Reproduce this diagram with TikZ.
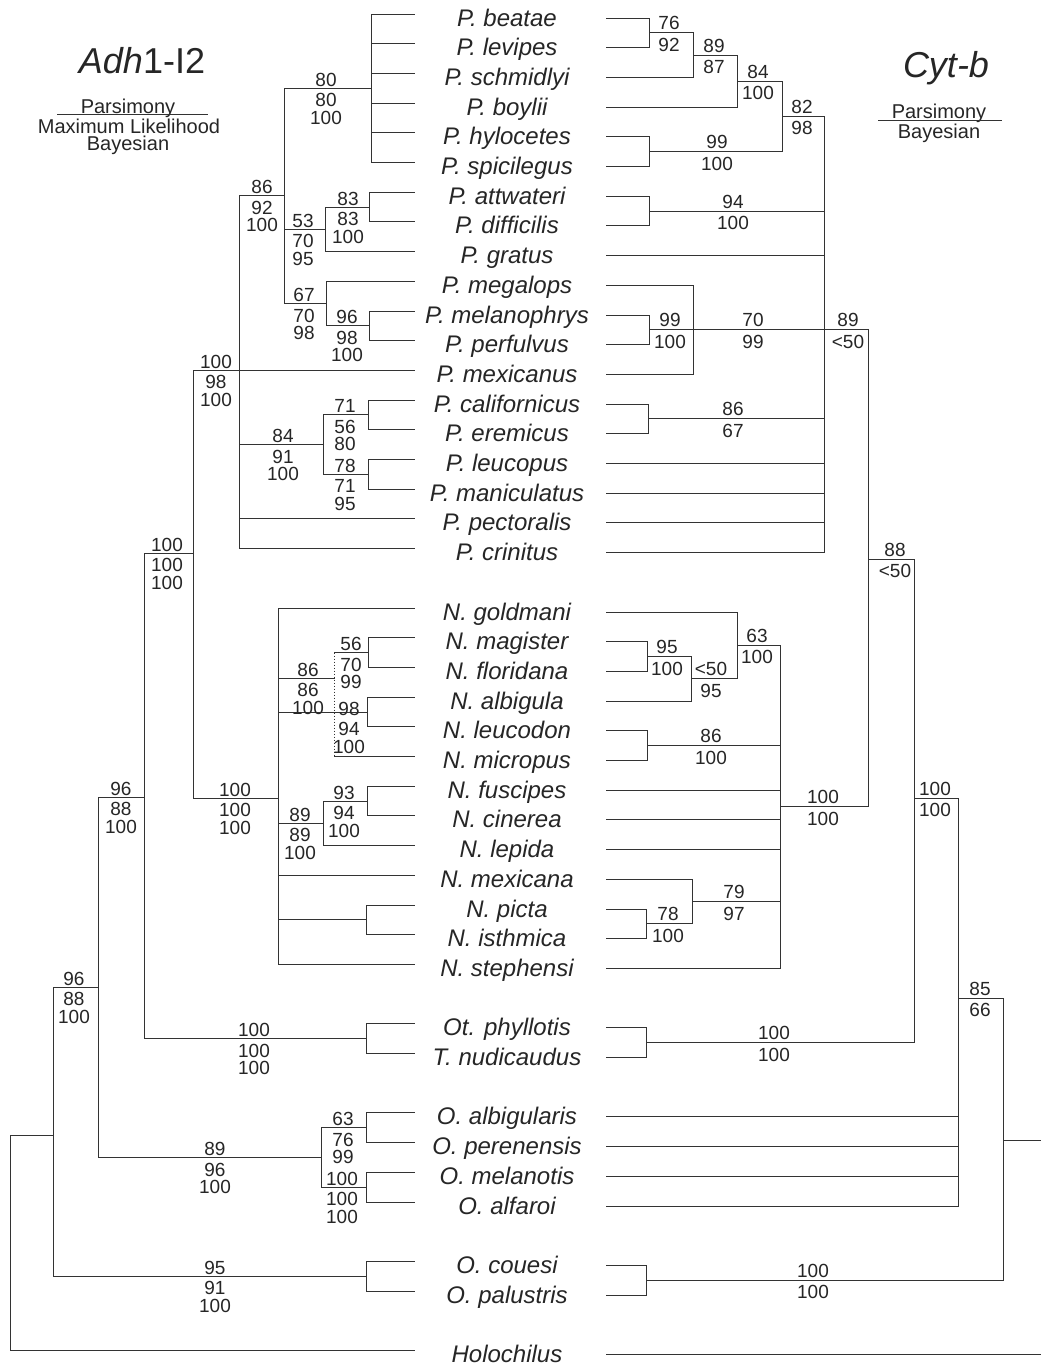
\documentclass[tikz,border=0pt]{standalone}
\usepackage{fontspec}
\setmainfont{Liberation Sans}
\newcounter{lab}
\tikzset{
  br/.style={line width=1pt, draw=black!80, line cap=rect},
  num/.style={inner sep=0pt, text=black!85, font=\fontsize{19}{19}\selectfont},
  taxon/.style={inner sep=0pt, anchor=base, text=black!85, font=\fontsize{24}{24}\selectfont\itshape},
  legend/.style={inner sep=0pt, anchor=base, text=black!85, font=\fontsize{20}{20}\selectfont},
  title/.style={inner sep=0pt, anchor=base, text=black!85, font=\fontsize{36}{36}\selectfont}
}
\newcommand\LT[2]{\draw[br] (#1,{14+29.7*#2}) -- (414,{14+29.7*#2});}
\newcommand\RT[2]{\draw[br] (606,{18+29.7*#2}) -- (#1,{18+29.7*#2});}
\newcommand\brV[3]{\draw[br] (#1,#2) -- (#1,#3);}
\newcommand\brH[3]{\draw[br] (#1,#3) -- (#2,#3);}
\newcommand\lthree[5]{\stepcounter{lab}%
  \node[num] (l\thelab a) at (#1,#2-8.5) {#3};
  \node[num] (l\thelab b) at (#1,#2+12) {#4};
  \node[num] (l\thelab c) at (#1,#2+29.5) {#5};}
\newcommand\ltwo[4]{\stepcounter{lab}%
  \node[num] (l\thelab a) at (#1,#2-9.5) {#3};
  \node[num] (l\thelab b) at (#1,#2+12) {#4};}
\begin{document}
\begin{tikzpicture}[x=1pt,y=-1pt]
\fill[white] (0,0) rectangle (1041,1365);
\useasboundingbox (0,0) rectangle (1041,1365);

% ---------- titles and legends ----------
\node[title] (titleL) at (142,73) {\textit{Adh}1-I2};
\node[legend] (parsL) at (128,113) {Parsimony};
\node[legend] (mlL) at (129,133) {Maximum Likelihood};
\node[legend] (bayL) at (128,150) {Bayesian};
\draw[br,line cap=butt] (57,114) -- (208,114);
\node[title] (titleR) at (946,77) {\textit{Cyt-b}};
\node[legend] (parsR) at (939,118) {Parsimony};
\node[legend] (bayR) at (939,138) {Bayesian};
\draw[br,line cap=butt] (878,120) -- (1002,120);

% ---------- taxa ----------
\foreach \k/\n in {0/P. beatae,1/P. levipes,2/P. schmidlyi,3/P. boylii,4/P. hylocetes,
  5/P. spicilegus,6/P. attwateri,7/P. difficilis,8/P. gratus,9/P. megalops,
  10/P. melanophrys,11/P. perfulvus,12/P. mexicanus,13/P. californicus,14/P. eremicus,
  15/P. leucopus,16/P. maniculatus,17/P. pectoralis,18/P. crinitus,
  20/N. goldmani,21/N. magister,22/N. floridana,23/N. albigula,24/N. leucodon,
  25/N. micropus,26/N. fuscipes,27/N. cinerea,28/N. lepida,29/N. mexicana,
  30/N. picta,31/N. isthmica,32/N. stephensi,34/Ot. phyllotis,35/T. nudicaudus,
  37/O. albigularis,38/O. perenensis,39/O. melanotis,40/O. alfaroi,
  42/O. couesi,43/O. palustris,45/Holochilus}
  {\node[taxon] (t\k) at (507,{26+29.7*\k}) {\n};}

% ---------- left tree (Adh1-I2) ----------
\foreach \k in {0,...,5} {\LT{371}{\k}}
\brV{371}{14}{162.5}
\brH{284}{371}{88.25}
\LT{369}{6}\LT{369}{7}
\brV{369}{192.2}{221.9}
\brH{325}{369}{207.05}
\LT{325}{8}
\brV{325}{207.05}{251.6}
\brH{284}{325}{229.3}
\LT{369}{10}\LT{369}{11}
\brV{369}{311}{340.7}
\brH{326}{369}{325.85}
\LT{326}{9}
\brV{326}{281.3}{325.85}
\brH{284}{326}{303.6}
\brV{284}{88.25}{303.6}
\brH{239}{284}{195.9}
\LT{368}{13}\LT{368}{14}
\brV{368}{400.1}{429.8}
\brH{323}{368}{414.95}
\LT{368}{15}\LT{368}{16}
\brV{368}{459.5}{489.2}
\brH{323}{368}{474.35}
\brV{323}{414.95}{474.35}
\brH{239}{323}{444.65}
\LT{239}{12}\LT{239}{17}\LT{239}{18}
\brV{239}{195.9}{548.6}
\brH{193}{239}{370.4}
% Neotoma
\LT{278}{20}
\LT{368}{21}\LT{368}{22}
\brV{368}{637.7}{667.4}
\brH{334}{368}{652.55}
\LT{367}{23}\LT{367}{24}
\brV{367}{697.1}{726.8}
\brH{278}{367}{712}
\LT{334}{25}
\draw[br,line cap=butt,dash pattern=on 1.3pt off 1.7pt] (334,652.55) -- (334,756.5);
\brH{278}{334}{678}
\LT{367}{26}\LT{367}{27}
\brV{367}{786.2}{815.9}
\brH{323}{367}{801.05}
\LT{323}{28}
\brV{323}{801.05}{845.6}
\brH{278}{323}{823.3}
\LT{278}{29}
\LT{366}{30}\LT{366}{31}
\brV{366}{905}{934.7}
\brH{278}{366}{919.85}
\LT{278}{32}
\brV{278}{608}{964.4}
\brH{193}{278}{798}
\brV{193}{370.4}{798}
\brH{144}{193}{553}
% Ototylomys / Tylomys
\LT{366}{34}\LT{366}{35}
\brV{366}{1023.8}{1053.5}
\brH{144}{366}{1038.65}
\brV{144}{553}{1038.65}
\brH{98}{144}{797}
% Oligoryzomys etc.
\LT{366}{37}\LT{366}{38}
\brV{366}{1112.9}{1142.6}
\brH{321}{366}{1127.75}
\LT{366}{39}\LT{366}{40}
\brV{366}{1172.3}{1202}
\brH{321}{366}{1187.15}
\brV{321}{1127.75}{1187.15}
\brH{98}{321}{1157.45}
\brV{98}{797}{1157.45}
\brH{53}{98}{987}
\LT{366}{42}\LT{366}{43}
\brV{366}{1261.4}{1291.1}
\brH{53}{366}{1276.25}
\brV{53}{987}{1276.25}
\brH{10}{53}{1135}
\LT{10}{45}
\brV{10}{1135}{1350.5}

% left support values
\lthree{326}{88.25}{80}{80}{100}
\lthree{262}{195.9}{86}{92}{100}
\lthree{303}{229.3}{53}{70}{95}
\lthree{348}{207.05}{83}{83}{100}
\lthree{304}{303.6}{67}{70}{98}
\lthree{347}{325.85}{96}{98}{100}
\lthree{216}{370.4}{100}{98}{100}
\lthree{283}{444.65}{84}{91}{100}
\lthree{345}{414.95}{71}{56}{80}
\lthree{345}{474.35}{78}{71}{95}
\lthree{167}{553}{100}{100}{100}
\lthree{235}{798}{100}{100}{100}
\lthree{308}{678}{86}{86}{100}
\lthree{351}{652.55}{56}{70}{99}
\lthree{349}{717}{98}{94}{100}
\lthree{300}{823.3}{89}{89}{100}
\lthree{344}{801.05}{93}{94}{100}
\lthree{121}{797}{96}{88}{100}
\lthree{254}{1038.65}{100}{100}{100}
\lthree{74}{987}{96}{88}{100}
\lthree{215}{1157.45}{89}{96}{100}
\lthree{343}{1127.75}{63}{76}{99}
\lthree{342}{1187.15}{100}{100}{100}
\lthree{215}{1276.25}{95}{91}{100}

% ---------- right tree (Cyt-b) ----------
\RT{649}{0}\RT{649}{1}
\brV{649}{18}{47.7}
\brH{649}{693}{32.85}
\RT{693}{2}
\brV{693}{32.85}{77.4}
\brH{693}{737}{55.1}
\RT{737}{3}
\brV{737}{55.1}{107.1}
\brH{737}{782}{81.1}
\RT{649}{4}\RT{649}{5}
\brV{649}{136.8}{166.5}
\brH{649}{782}{151.65}
\brV{782}{81.1}{151.65}
\brH{782}{824}{116.4}
\RT{649}{6}\RT{649}{7}
\brV{649}{196.2}{225.9}
\brH{649}{824}{211.05}
\RT{824}{8}
\RT{693}{9}\RT{649}{10}\RT{649}{11}\RT{693}{12}
\brV{649}{315}{344.7}
\brV{693}{285.3}{374.4}
\brH{649}{824}{329.85}
\RT{648}{13}\RT{648}{14}
\brV{648}{404.1}{433.8}
\brH{648}{824}{418.95}
\RT{824}{15}\RT{824}{16}\RT{824}{17}\RT{824}{18}
\brV{824}{116.4}{552.6}
\brH{824}{868}{329.85}
% Neotoma
\RT{737}{20}
\RT{647}{21}\RT{647}{22}
\brV{647}{641.7}{671.4}
\brH{647}{691}{656.55}
\RT{691}{23}
\brV{691}{656.55}{701.1}
\brH{691}{737}{678.8}
\brV{737}{612}{678.8}
\brH{737}{780}{645.4}
\RT{647}{24}\RT{647}{25}
\brV{647}{730.8}{760.5}
\brH{647}{780}{745.65}
\RT{780}{26}\RT{780}{27}\RT{780}{28}
\RT{692}{29}
\RT{646}{30}\RT{646}{31}
\brV{646}{909}{938.7}
\brH{646}{692}{923.85}
\brV{692}{879.3}{923.85}
\brH{692}{780}{901.6}
\RT{780}{32}
\brV{780}{645.4}{968.4}
\brH{780}{868}{806.9}
\brV{868}{329.85}{806.9}
\brH{868}{914}{559}
\RT{646}{34}\RT{646}{35}
\brV{646}{1027.8}{1057.5}
\brH{646}{914}{1042.65}
\brV{914}{559}{1042.65}
\brH{914}{958}{798}
\RT{958}{37}\RT{958}{38}\RT{958}{39}\RT{958}{40}
\brV{958}{798}{1206}
\brH{958}{1003}{998}
\RT{646}{42}\RT{646}{43}
\brV{646}{1265.4}{1295.1}
\brH{646}{1003}{1280.25}
\brV{1003}{998}{1280.25}
\brH{1003}{1041}{1140}
\RT{1041}{45}

% right support values
\ltwo{669}{32.85}{76}{92}
\ltwo{714}{55.1}{89}{87}
\ltwo{758}{81.1}{84}{100}
\ltwo{802}{116.4}{82}{98}
\ltwo{717}{151.65}{99}{100}
\ltwo{733}{211.05}{94}{100}
\ltwo{670}{329.85}{99}{100}
\ltwo{753}{329.85}{70}{99}
\ltwo{848}{329.85}{89}{<50}
\ltwo{733}{418.95}{86}{67}
\ltwo{895}{559}{88}{<50}
\ltwo{935}{798}{100}{100}
\ltwo{980}{998}{85}{66}
\ltwo{667}{656.55}{95}{100}
\ltwo{711}{678.8}{<50}{95}
\ltwo{757}{645.4}{63}{100}
\ltwo{711}{745.65}{86}{100}
\ltwo{668}{923.85}{78}{100}
\ltwo{734}{901.6}{79}{97}
\ltwo{823}{806.9}{100}{100}
\ltwo{774}{1042.65}{100}{100}
\ltwo{813}{1280.25}{100}{100}
\end{tikzpicture}
\end{document}
